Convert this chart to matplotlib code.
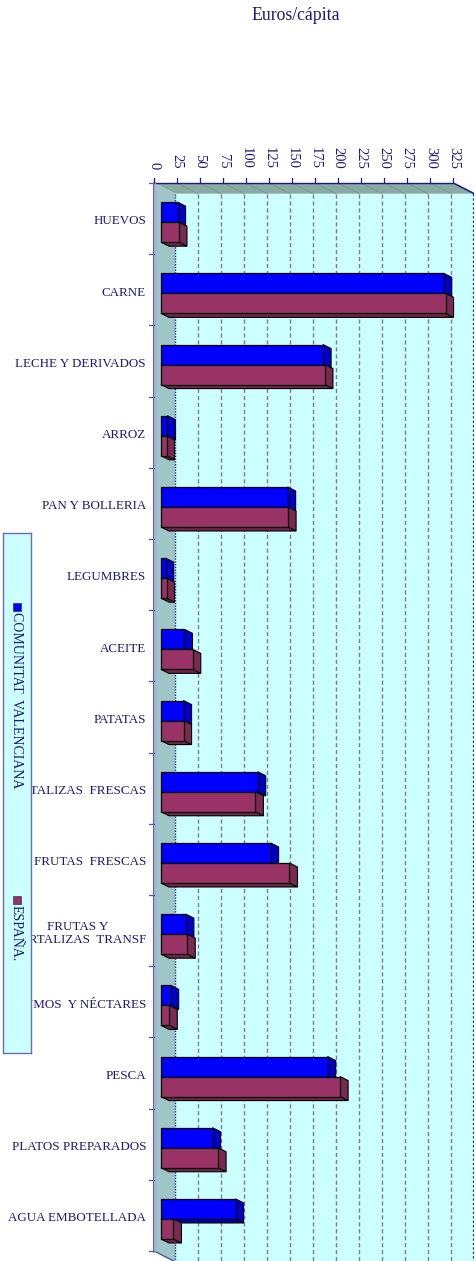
import matplotlib
matplotlib.use("Agg")
import matplotlib.pyplot as plt
from matplotlib.patches import Polygon, Rectangle
import numpy as np

categories = ["HUEVOS", "CARNE", "LECHE Y DERIVADOS", "ARROZ", "PAN Y BOLLERIA",
              "LEGUMBRES", "ACEITE", "PATATAS", "HORTALIZAS  FRESCAS",
              "FRUTAS  FRESCAS", "FRUTAS Y\nHORTALIZAS  TRANSF", "ZUMOS  Y NÉCTARES",
              "PESCA", "PLATOS PREPARADOS", "AGUA EMBOTELLADA"]
comunitat = [18, 307, 176, 7, 137.5, 5, 25.5, 24.5, 105, 119, 27, 10.5, 181, 56, 81]
espana = [19.5, 309, 178, 6, 138, 6, 34.5, 24.5, 102.5, 139.5, 28.5, 9, 194.5, 62, 13.5]
series_names = ["COMUNITAT  VALENCIANA", "ESPAÑA."]
xticks = list(range(0, 326, 25))
title = "Euros/cápita"

W, H = 477, 1261
fig = plt.figure(figsize=(W / 100, H / 100), dpi=100)
fig.patch.set_facecolor("white")

# main axes geometry (pixels)
ax_l, ax_r, ax_t = 154, 474, 183
cat_px = 71.2
ax = fig.add_axes([ax_l / W, 0, (ax_r - ax_l) / W, 1 - ax_t / H])
XMAX = 325
px_per_unit = 299.3 / 325
DX = 21 / px_per_unit
DY = 10.7 / cat_px
n = len(categories)
ax.set_xlim(0, (ax_r - ax_l) / px_per_unit)
ax.set_ylim(-0.5 + (H - ax_t) / cat_px, -0.5)
ax.axis("off")

navy = "#1a1a80"
# walls
top_wall = Polygon([(0, -0.5), (XMAX, -0.5), (XMAX + DX, -0.5 + DY), (DX, -0.5 + DY)],
                   closed=True, facecolor="#88aaa2", edgecolor="none", zorder=1)
left_wall = Polygon([(0, -0.5), (DX, -0.5 + DY), (DX, n - 0.5 + DY), (0, n - 0.5)],
                    closed=True, facecolor="#9ec6c6", edgecolor="none", zorder=1)
back_wall = Rectangle((DX, -0.5 + DY), XMAX, n, facecolor="#ccffff", edgecolor="none", zorder=1)
for p in (back_wall, top_wall, left_wall):
    ax.add_patch(p)

# gridlines on back wall and top wall
for v in xticks[1:-1]:
    ax.plot([DX + v, DX + v], [-0.5 + DY, n - 0.5 + DY], color="#7f7f7f", lw=1.0,
            ls=(0, (3, 2)), zorder=2)
    ax.plot([v, v + DX], [-0.5, -0.5 + DY], color="#7a9690", lw=0.6, zorder=2)
# back wall edges
ax.plot([DX, DX], [-0.5 + DY, n - 0.5 + DY], color="#22228a", lw=1.0, ls=(0, (1, 1)), zorder=2)
ax.plot([DX + XMAX, DX + XMAX], [-0.5 + DY, n - 0.5 + DY], color="#22228a", lw=1.6,
        ls=(0, (1, 1)), zorder=2)
ax.plot([XMAX, XMAX + DX], [-0.5, -0.5 + DY], color="#22228a", lw=1.2, zorder=2)
ax.plot([0, DX], [n - 0.5, n - 0.5 + DY], color="#5555aa", lw=1.0, zorder=2)

# front axes lines
ax.plot([0, XMAX], [-0.5, -0.5], color=navy, lw=1.0, zorder=6, clip_on=False)
ax.plot([0, 0], [-0.5, n - 0.5], color="#aaaadd", lw=2.2, zorder=6, clip_on=False)
ax.plot([-0.6, -0.6], [-0.5, n - 0.5], color="#5555aa", lw=0.6, zorder=6, clip_on=False)
tick_up = 5 / cat_px
for v in xticks:
    ax.plot([v, v], [-0.5, -0.5 - tick_up], color=navy, lw=0.9, clip_on=False, zorder=6)
    ax.text(v, -0.5 - 14 / cat_px, str(v), rotation=-90, ha="center", va="bottom",
            fontsize=10.5, family="Liberation Serif", color=navy, clip_on=False)
for b in np.arange(n + 1) - 0.5:
    ax.plot([0, -5 / px_per_unit], [b, b], color="#5555aa", lw=0.9, clip_on=False, zorder=6)

# category labels
for i, c in enumerate(categories):
    ax.text(-8 / px_per_unit, i + 0.04, c, ha="right", va="center", multialignment="center",
            fontsize=9.4, family="Liberation Serif", color=navy, clip_on=False, zorder=3,
            linespacing=1.05)

# 3D bars
x0 = DX / 3
y_off = DY / 3
bh = 20 / cat_px
ddx = 8 / px_per_unit
ddy = 4 / cat_px
y = np.arange(n)


def draw_series(vals, ys, front, side, bottom):
    for v, yt in zip(vals, ys):
        yb = yt + bh
        ax.add_patch(Polygon([(x0, yb), (x0 + v, yb), (x0 + v + ddx, yb + ddy), (x0 + ddx, yb + ddy)],
                             closed=True, facecolor=bottom, edgecolor="black", lw=0.8, zorder=4))
        ax.add_patch(Polygon([(x0 + v, yt), (x0 + v + ddx, yt + ddy), (x0 + v + ddx, yb + ddy), (x0 + v, yb)],
                             closed=True, facecolor=side, edgecolor="black", lw=0.8, zorder=4))
    ax.barh(ys, vals, left=x0, height=bh, align="edge", color=front, edgecolor="black",
            linewidth=0.9, zorder=4)


draw_series(comunitat, y + y_off - bh, "#0000ff", "#0000cc", "#0000a8")
draw_series(espana, y + y_off, "#993366", "#7a2950", "#722649")

# title
fig.text(296 / W, 1 - 15 / H, title, ha="center", va="center", fontsize=12.8,
         family="Liberation Serif", color=navy)

# legend (drawn on top of labels)
lx0, lx1, ly0, ly1 = 2.5, 30.5, 533, 1053
lax = fig.add_axes([lx0 / W, 1 - ly1 / H, (lx1 - lx0) / W, (ly1 - ly0) / H])
lax.set_xlim(0, 1)
lax.set_ylim(ly1, ly0)
lax.set_xticks([])
lax.set_yticks([])
lax.set_facecolor("#ccffff")
for s in lax.spines.values():
    s.set_edgecolor("#6b6bb5")
    s.set_linewidth(1.0)
legend_pos = [607, 900]
legend_cols = ["#0000ff", "#993366"]
for name, yp, col in zip(series_names, legend_pos, legend_cols):
    lax.plot([0.5], [yp], marker="s", markersize=5.5, color=col, markeredgecolor="#333366",
             markeredgewidth=0.5)
    lax.text(0.5, yp + 5, name, rotation=-90, ha="center", va="top", fontsize=10,
             family="Liberation Serif", color=navy)

fig.savefig("out.png", dpi=100, facecolor="white")
